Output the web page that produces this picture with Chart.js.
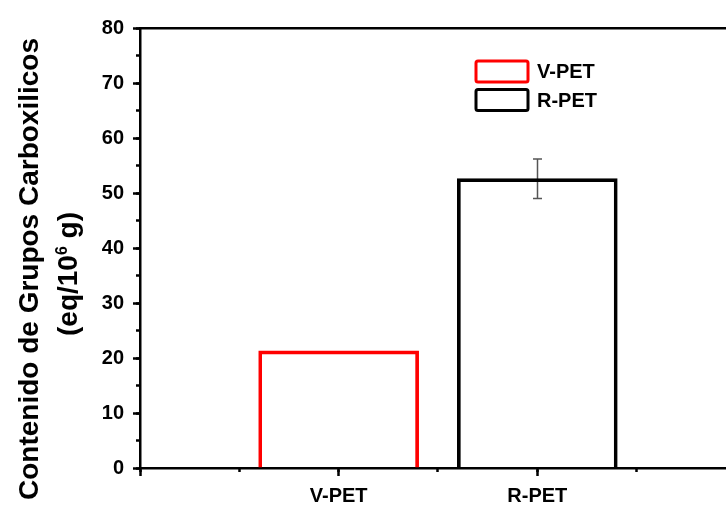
<!DOCTYPE html>
<html>
<head>
<meta charset="utf-8">
<title>Contenido de grupos carboxilicos</title>
<script src="https://cdn.jsdelivr.net/npm/chart.js@4.4.1/dist/chart.umd.min.js"></script>
<style>
    html, body { margin: 0; padding: 0; background: #fff; overflow: hidden; }
    canvas { display: block; }
</style>
</head>
<body>
<canvas id="carboxChart" width="726" height="508"></canvas>
<script>
// Samples and their carboxyl end-group content (eq/10^6 g)
const categories = ['V-PET', 'R-PET'];
const categoryPositions = [1, 2];
const carboxylValues = [21.3, 52.6];
const carboxylErrors = [null, 3.6];
const barColors = ['#ff0000', '#000000'];

// Axis ranges
const yMin = 0, yMax = 80, yStep = 10, yMinorStep = 5;
const xMin = 0, xMax = 2.95, xStep = 1, xMinorStep = 0.5;

const yTitleLine1 = 'Contenido de Grupos Carboxilicos';
const yTitleLine2 = ['(eq/10', '6', ' g)'];   // base, superscript, rest

const FONT = 'Liberation Sans, Arial, Helvetica, sans-serif';
const AXIS_W = 2.5;

// Framed legend boxes in the upper right of the plot
const legendBoxes = {
    id: 'legendBoxes',
    afterDraw(chart, args, opts) {
        const ctx = chart.ctx;
        ctx.save();
        chart.data.datasets.forEach(function(ds, i) {
            const top = opts.y + i * opts.rowGap;
            ctx.lineWidth = 3;
            ctx.strokeStyle = ds.borderColor;
            ctx.beginPath();
            if (ctx.roundRect) {
                ctx.roundRect(opts.x, top, opts.boxW, opts.boxH, 2);
            } else {
                ctx.rect(opts.x, top, opts.boxW, opts.boxH);
            }
            ctx.stroke();
            ctx.fillStyle = '#000';
            ctx.font = 'bold 20px ' + FONT;
            ctx.textAlign = 'left';
            ctx.textBaseline = 'middle';
            ctx.fillText(ds.label, opts.x + opts.boxW + opts.gap, top + opts.boxH / 2 + 1);
        });
        ctx.restore();
    }
};

// Standard deviation whiskers, drawn under the bar outlines
const errorBars = {
    id: 'errorBars',
    beforeDatasetsDraw(chart, args, opts) {
        const ctx = chart.ctx;
        const xs = chart.scales.x, ys = chart.scales.y;
        ctx.save();
        ctx.strokeStyle = opts.color;
        ctx.lineWidth = opts.width;
        carboxylErrors.forEach(function(err, i) {
            if (!err) return;
            const px = Math.round(xs.getPixelForValue(categoryPositions[i])) + 0.5;
            const hi = ys.getPixelForValue(carboxylValues[i] + err);
            const lo = ys.getPixelForValue(carboxylValues[i] - err);
            ctx.beginPath();
            ctx.moveTo(px, hi); ctx.lineTo(px, lo);
            ctx.moveTo(px - opts.cap, hi); ctx.lineTo(px + opts.cap, hi);
            ctx.moveTo(px - opts.cap, lo); ctx.lineTo(px + opts.cap, lo);
            ctx.stroke();
        });
        ctx.restore();
    }
};

// Two-line rotated y title with a superscript exponent
const yTitle = {
    id: 'yTitle',
    afterDraw(chart, args, opts) {
        const ctx = chart.ctx;
        const big = 'bold ' + opts.size + 'px ' + FONT;
        const small = 'bold ' + opts.supSize + 'px ' + FONT;
        ctx.save();
        ctx.fillStyle = '#000';
        ctx.textBaseline = 'alphabetic';

        ctx.save();
        ctx.translate(opts.line1X, opts.line1Y);
        ctx.rotate(-Math.PI / 2);
        ctx.font = big;
        ctx.textAlign = 'center';
        ctx.fillText(yTitleLine1, 0, 0);
        ctx.restore();

        ctx.save();
        ctx.translate(opts.line2X, opts.line2Y);
        ctx.rotate(-Math.PI / 2);
        ctx.textAlign = 'left';
        ctx.font = big;
        const w0 = ctx.measureText(yTitleLine2[0]).width;
        const w2 = ctx.measureText(yTitleLine2[2]).width;
        ctx.font = small;
        const w1 = ctx.measureText(yTitleLine2[1]).width;
        let cx = -(w0 + w1 + w2) / 2;
        ctx.font = big;
        ctx.fillText(yTitleLine2[0], cx, 0);
        cx += w0;
        ctx.font = small;
        ctx.fillText(yTitleLine2[1], cx, -opts.supRise);
        cx += w1;
        ctx.font = big;
        ctx.fillText(yTitleLine2[2], cx, 0);
        ctx.restore();

        ctx.restore();
    }
};

const datasets = categories.map(function(name, i) {
    return {
        label: name,
        data: [{ x: categoryPositions[i], y: carboxylValues[i] }],
        borderColor: barColors[i],
        backgroundColor: 'rgba(255, 255, 255, 0)',
        borderWidth: 3,
        barThickness: 160,
        grouped: false
    };
});

const tickFont = { family: FONT, size: 20, weight: 'bold' };

new Chart(document.getElementById('carboxChart'), {
    type: 'bar',
    data: { datasets: datasets },
    plugins: [errorBars, legendBoxes, yTitle],
    options: {
        responsive: false,
        animation: false,
        indexAxis: 'x',
        layout: { padding: 0 },
        plugins: {
            legend: { display: false },
            tooltip: { enabled: false },
            errorBars: { color: '#555555', width: 1.5, cap: 4.5 },
            legendBoxes: { x: 476, y: 61, boxW: 52, boxH: 21, rowGap: 28.5, gap: 9 },
            yTitle: {
                size: 28, supSize: 16, supRise: 10,
                line1X: 38, line1Y: 269,
                line2X: 77, line2Y: 274
            }
        },
        scales: {
            x: {
                type: 'linear',
                position: 'bottom',
                weight: 1,
                min: xMin,
                max: xMax,
                offset: false,
                afterBuildTicks: function(s) {
                    s.ticks = s.ticks.filter(function(t) { return Number.isInteger(t.value); });
                },
                afterFit: function(s) { s.height = 40; },
                ticks: {
                    stepSize: xStep,
                    autoSkip: false,
                    maxRotation: 0,
                    padding: 8,
                    color: '#000',
                    font: tickFont,
                    callback: function(v) {
                        const i = categoryPositions.indexOf(v);
                        return i >= 0 ? categories[i] : '';
                    }
                },
                grid: { drawOnChartArea: false, offset: false, tickLength: 8, tickWidth: AXIS_W, tickColor: '#000' },
                border: { display: true, color: '#000', width: AXIS_W }
            },
            xMinor: {
                type: 'linear',
                position: 'bottom',
                weight: 0,
                min: xMin,
                max: xMax,
                offset: false,
                afterBuildTicks: function(s) {
                    s.ticks = s.ticks.filter(function(t) { return Number.isInteger(t.value * 2); });
                },
                afterFit: function(s) { s.height = 0; },
                ticks: { display: false, stepSize: xMinorStep },
                grid: { drawOnChartArea: false, offset: false, tickLength: 4, tickWidth: AXIS_W, tickColor: '#000' },
                border: { display: false }
            },
            xTop: {
                type: 'linear',
                position: 'top',
                afterFit: function(s) { s.height = 28; },
                ticks: { display: false },
                grid: { drawOnChartArea: false, drawTicks: false },
                border: { display: true, color: '#000', width: AXIS_W }
            },
            y: {
                type: 'linear',
                position: 'left',
                weight: 1,
                min: yMin,
                max: yMax,
                afterFit: function(s) { s.width = 140; },
                ticks: { stepSize: yStep, padding: 9, color: '#000', font: tickFont },
                grid: { drawOnChartArea: false, tickLength: 7, tickWidth: AXIS_W, tickColor: '#000' },
                border: { display: true, color: '#000', width: AXIS_W }
            },
            yMinor: {
                type: 'linear',
                position: 'left',
                weight: 0,
                min: yMin,
                max: yMax,
                afterFit: function(s) { s.width = 0; },
                ticks: { display: false, stepSize: yMinorStep },
                grid: { drawOnChartArea: false, tickLength: 4, tickWidth: AXIS_W, tickColor: '#000' },
                border: { display: false }
            }
        }
    }
});
</script>
</body>
</html>
